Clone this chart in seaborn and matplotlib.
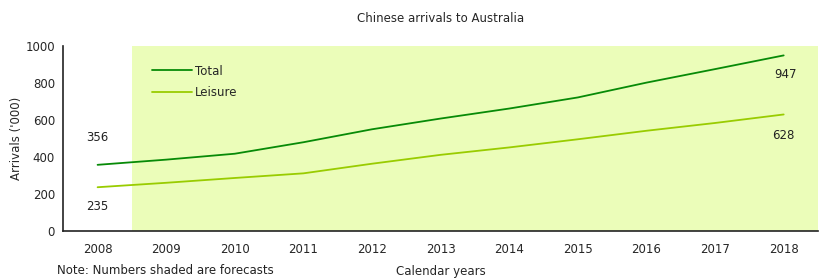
import matplotlib
matplotlib.use("Agg")
import matplotlib.pyplot as plt
import seaborn as sns
import pandas as pd
import numpy as np

years = ["2008", "2009", "2010", "2011", "2012", "2013", "2014", "2015", "2016", "2017", "2018"]
total = [356, 384, 416, 478, 548, 606, 660, 720, 800, 873, 947]
leisure = [235, 259, 285, 310, 362, 410, 450, 494, 540, 582, 628]
yticks = [0, 200, 400, 600, 800, 1000]

sns.set_style("white")
plt.rcParams['font.family'] = ['DejaVu Sans']

df = pd.DataFrame({
    "idx": list(range(len(years))) * 2,
    "value": total + leisure,
    "series": ["Total"] * len(years) + ["Leisure"] * len(years),
})

fig = plt.figure(figsize=(8.23, 2.78), dpi=100)
ax = fig.add_axes([0.0769, 0.170, 0.917, 0.666])

ax.axvspan(0.5, len(years) - 0.5, color="#EBFDB9", zorder=0, lw=0)

sns.lineplot(data=df, x="idx", y="value", hue="series",
             palette={"Total": "#078A07", "Leisure": "#99CC00"},
             linewidth=1.3, ax=ax, legend=True, zorder=3)

ax.set_xlim(-0.5, len(years) - 0.5)
ax.set_ylim(0, 1000)
ax.set_yticks(yticks)
ax.set_yticklabels([str(v) for v in yticks], fontsize=8.5)
ax.set_xticks(np.arange(-0.5, len(years), 1.0))
ax.set_xticklabels([])
ax.set_xticks(range(len(years)), minor=True)
ax.set_xticklabels(years, minor=True, fontsize=8.5)
ax.tick_params(axis="x", which="major", direction="out", length=4, width=1, color="#222222")
ax.tick_params(axis="x", which="minor", length=0, pad=9)
ax.tick_params(axis="y", direction="out", length=4, width=1, color="#222222", pad=2)

for s in ["top", "right"]:
    ax.spines[s].set_visible(False)
for s in ["left", "bottom"]:
    ax.spines[s].set_color("#222222")
    ax.spines[s].set_linewidth(1.2)

ax.set_xlabel("Calendar years", fontsize=8.5, labelpad=6)
ax.set_ylabel("Arrivals ('000)", fontsize=8.5, labelpad=2)
ax.set_title("Chinese arrivals to Australia", fontsize=8.5, pad=17)

# value labels
ax.annotate(str(total[0]), (0, total[0]), xytext=(0, 19.5), textcoords="offset points",
            ha="center", va="center", fontsize=8.5, color="#222222")
ax.annotate(str(leisure[0]), (0, leisure[0]), xytext=(0, -14), textcoords="offset points",
            ha="center", va="center", fontsize=8.5, color="#222222")
ax.annotate(str(total[-1]), (len(years) - 1, total[-1]), xytext=(1, -14), textcoords="offset points",
            ha="center", va="center", fontsize=8.5, color="#222222")
ax.annotate(str(leisure[-1]), (len(years) - 1, leisure[-1]), xytext=(0, -15), textcoords="offset points",
            ha="center", va="center", fontsize=8.5, color="#222222")

leg = ax.legend(loc="upper left", bbox_to_anchor=(0.103, 0.955), frameon=False,
                fontsize=8.5, handlelength=3.4, handletextpad=0.25, labelspacing=0.75)

fig.text(57 / 823, 1 - 271 / 278, "Note: Numbers shaded are forecasts", fontsize=8.5,
         ha="left", va="center", color="#222222")

fig.savefig("out.png", dpi=100)
